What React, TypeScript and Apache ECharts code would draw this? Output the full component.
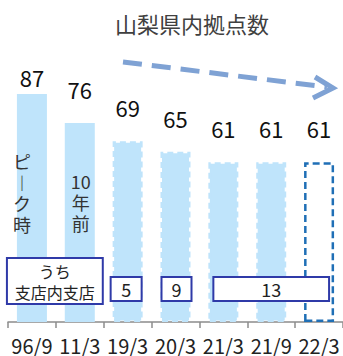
import React, { useEffect, useRef } from 'react';
import * as echarts from 'echarts';

const titleText = '山梨県内拠点数';
const categories = ['96/9', '11/3', '19/3', '20/3', '21/3', '21/9', '22/3'];
const branchCounts = [87, 76, 69, 65, 61, 61, 61];
const barKinds = ['solid', 'solid', 'dashed', 'dashed', 'dashed', 'dashed', 'outline'];
const subsetGroups = [
  { from: 0, to: 1, text: 'うち\n支店内支店' },
  { from: 2, to: 2, text: '5' },
  { from: 3, to: 3, text: '9' },
  { from: 4, to: 6, text: '13' },
];
const barNotes = [
  { index: 0, text: 'ピ\n︱\nク\n時' },
  { index: 1, text: '10\n年\n前' },
];

const FONT = '"Noto Sans CJK JP", "Noto Sans", sans-serif';
const BAR_FILL = '#bfe4fb';
const BOX_BLUE = '#2f3aa8';
const ARROW = '#7fa2d4';

// layout (pixels)
const boxPads = [[25, 23], [17, 14], [14, 16], [10, 10]];
const noteOffsets = [-10, 1];

export default function App() {
  const ref = useRef<HTMLDivElement>(null);
  useEffect(() => {
    if (!ref.current) return;
    const chart = echarts.init(ref.current, null, { renderer: 'svg' });
    const data = branchCounts.map((v, i) => {
      const kind = barKinds[i];
      const item: any = { value: v };
      if (kind === 'solid') {
        item.itemStyle = { color: BAR_FILL };
      } else if (kind === 'dashed') {
        item.itemStyle = { color: BAR_FILL, borderColor: BAR_FILL, borderWidth: 3, borderType: [6, 4] };
      } else {
        item.itemStyle = { color: 'rgba(255,255,255,0)', borderColor: '#1f6fb6', borderWidth: 2.5, borderType: [7, 4] };
      }
      if (i === 0) item.label = { distance: 6 };
      return item;
    });
    chart.setOption({
      animation: false,
      textStyle: { fontFamily: FONT },
      grid: { left: 8, width: 336, top: 60, height: 262, containLabel: false },
      xAxis: {
        type: 'category',
        data: categories,
        axisLine: { lineStyle: { color: '#8c8c8c', width: 1.5 } },
        axisTick: { show: true, length: 6, lineStyle: { color: '#8c8c8c', width: 1.5 } },
        axisLabel: { interval: 0, fontSize: 20, color: '#222', margin: 13, fontFamily: FONT },
      },
      yAxis: { type: 'value', min: 0, max: 100, show: false, splitLine: { show: false } },
      series: [
        {
          type: 'bar',
          data,
          barWidth: 30,
          label: { show: true, position: 'top', distance: 23, fontSize: 22, color: '#111', fontFamily: FONT },
        },
      ],
    });

    const px = (i: number) => chart.convertToPixel({ gridIndex: 0 }, [categories[i], 0]) as number[];
    const graphics: any[] = [];
    graphics.push({
      type: 'text', x: 192, y: 23,
      style: { text: titleText, fontSize: 22, fill: '#404040', align: 'center', verticalAlign: 'middle', fontFamily: FONT },
    });
    graphics.push({
      type: 'line',
      shape: { x1: 123, y1: 62, x2: 327, y2: 87 },
      style: { stroke: ARROW, lineWidth: 5, lineDash: [19, 10] },
    });
    graphics.push({
      type: 'polyline',
      shape: { points: [[315, 77], [333, 88], [313, 98]] },
      style: { stroke: ARROW, lineWidth: 5, fill: null },
    });
    subsetGroups.forEach((g, k) => {
      const x0 = px(g.from)[0] - boxPads[k][0];
      const x1 = px(g.to)[0] + boxPads[k][1];
      const multi = g.text.includes('\n');
      const y0 = multi ? 258 : 277;
      const y1 = multi ? 304 : 301;
      graphics.push({
        type: 'rect',
        shape: { x: x0, y: y0, width: x1 - x0, height: y1 - y0 },
        style: { fill: '#fff', stroke: BOX_BLUE, lineWidth: 2 },
        z: 10,
      });
      graphics.push({
        type: 'text', x: (x0 + x1) / 2, y: (y0 + y1) / 2,
        style: {
          text: g.text, fontSize: multi ? 16 : 18, lineHeight: multi ? 21 : 20, fill: '#222',
          align: 'center', verticalAlign: 'middle', fontFamily: FONT,
        },
        z: 11,
      });
    });
    barNotes.forEach((n, k) => {
      const cx = px(n.index)[0] + noteOffsets[k];
      graphics.push({
        type: 'text', x: cx, y: k === 0 ? 150 : 170,
        style: { text: n.text, fontSize: 18, lineHeight: 21, fill: '#333', align: 'center', verticalAlign: 'top', fontFamily: FONT },
        z: 10,
      });
    });
    chart.setOption({ graphic: graphics });
    return () => chart.dispose();
  }, []);
  return <div ref={ref} style={{ position: 'absolute', left: 0, top: 0, width: 343, height: 356 }} />;
}
